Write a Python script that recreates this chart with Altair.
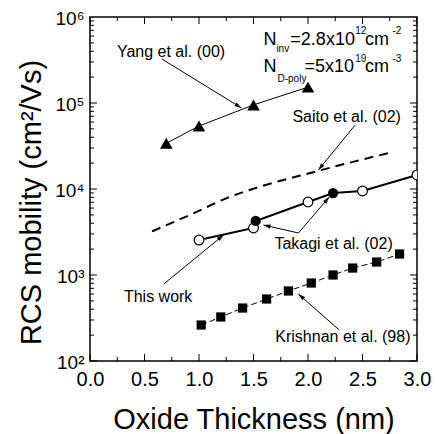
import math
import altair as alt
import pandas as pd

# ---------------- data ----------------
yang_x = [0.7, 1.0, 1.5, 2.0]
yang_y = [34000, 54000, 95000, 153000]

saito_x = [0.57, 0.92, 1.28, 1.65, 2.02, 2.38, 2.75]
saito_y = [3220, 5020, 8070, 11500, 15350, 20200, 26400]

work_x = [1.0, 1.5, 2.0, 2.5, 3.0]
work_y = [2550, 3520, 7060, 9480, 14550]

takagi_x = [1.52, 2.23]
takagi_y = [4250, 8980]

krish_x = [1.02, 1.2, 1.4, 1.62, 1.82, 2.03, 2.23, 2.41, 2.63, 2.84]
krish_y = [262, 325, 413, 526, 652, 807, 1000, 1205, 1416, 1754]

# annotation labels
label_text = ["Yang et al. (00)", "Saito et al. (02)", "Takagi et al. (02)", "This work", "Krishnan et al. (98)"]
label_x = [0.247, 1.857, 1.692, 0.311, 1.70]
label_y = [392000, 68700, 2290, 555, 190]

# arrows (tail -> head)
arrow_x1 = [0.659, 2.433, 1.912, 1.912, 0.677, 2.287]
arrow_y1 = [325000, 55500, 3080, 3080, 786, 229]
arrow_x2 = [1.390, 2.095, 1.592, 2.195, 1.226, 1.912]
arrow_y2 = [87500, 16630, 3810, 8070, 2920, 601]

# condition text pieces
cond_text = ["N", "inv", "=2.8x10", "12", "cm", "-2",
             "N", "D-poly", "=5x10", "19", "cm", "-3"]
cond_x = [1.5915, 1.710, 1.838, 2.433, 2.524, 2.775,
          1.5915, 1.720, 1.967, 2.433, 2.524, 2.775]
cond_y = [547000, 424000, 547000, 687000, 547000, 687000,
          259000, 190000, 259000, 325000, 259000, 325000]
cond_big = [1, 0, 1, 0, 1, 0, 1, 0, 1, 0, 1, 0]

x_major = [0.0, 0.5, 1.0, 1.5, 2.0, 2.5, 3.0]
x_minor = [0.25, 0.75, 1.25, 1.75, 2.25, 2.75]
y_major = [1e2, 1e3, 1e4, 1e5, 1e6]

# ---------------- layout ----------------
W, H = 327, 344
XD = (0.0, 3.0)
YD = (1e2, 1e6)
FONT = "Liberation Sans"


def px(x):
    return (x - XD[0]) / (XD[1] - XD[0]) * W


def py(y):
    return (math.log10(YD[1]) - math.log10(y)) / (math.log10(YD[1]) - math.log10(YD[0])) * H


xs = alt.Scale(domain=list(XD), nice=False)
ys = alt.Scale(type="log", domain=list(YD), nice=False)

# ---------------- tables ----------------
yang = pd.DataFrame({"x": yang_x, "y": yang_y})
saito = pd.DataFrame({"x": saito_x, "y": saito_y})
work = pd.DataFrame({"x": work_x, "y": work_y})
takagi = pd.DataFrame({"x": takagi_x, "y": takagi_y})
krish = pd.DataFrame({"x": krish_x, "y": krish_y})
combo = pd.concat([work, takagi]).sort_values("x")

labels = pd.DataFrame({"t": label_text, "x": label_x, "y": label_y})
arrows = pd.DataFrame({"x": arrow_x1, "y": arrow_y1, "x2": arrow_x2, "y2": arrow_y2})
arrows["angle"] = [
    math.degrees(math.atan2(px(b) - px(a), -(py(d) - py(c)))) % 360
    for a, b, c, d in zip(arrow_x1, arrow_x2, arrow_y1, arrow_y2)
]
cond = pd.DataFrame({"t": cond_text, "x": cond_x, "y": cond_y, "big": cond_big})

# inward tick marks (axes drawn as a frame)
dec_per_px = (math.log10(YD[1]) - math.log10(YD[0])) / H
x_per_px = (XD[1] - XD[0]) / W
rows = []
for v, L in [(v, 7) for v in x_major] + [(v, 4) for v in x_minor]:
    rows.append({"x": v, "x2": v, "y": YD[0], "y2": YD[0] * 10 ** (L * dec_per_px)})
    rows.append({"x": v, "x2": v, "y": YD[1], "y2": YD[1] / 10 ** (L * dec_per_px)})
for e in range(2, 6):
    for m in range(1, 10):
        v = m * 10 ** e
        L = 7 if m == 1 else 4
        rows.append({"x": XD[0], "x2": XD[0] + L * x_per_px, "y": v, "y2": v})
        rows.append({"x": XD[1], "x2": XD[1] - L * x_per_px, "y": v, "y2": v})
ticks = pd.DataFrame(rows)

# ---------------- chart ----------------
xaxis = alt.Axis(values=x_major, format=".1f", ticks=False, domain=False, grid=False,
                 labelFlush=False, labelFontSize=20, labelPadding=8, labelFont=FONT,
                 labelColor="black",
                 title="Oxide Thickness (nm)", titleFontSize=29, titleFont=FONT,
                 titleFontWeight="normal", titleColor="black",
                 titleX=W / 2, titleY=58, titleAlign="center", titleBaseline="middle")
yaxis = alt.Axis(values=y_major, ticks=False, domain=False, grid=False,
                 labelFlush=False, labelOffset=1,
                 labelExpr="'10' + (round(log(datum.value)/LN10) == 2 ? '²' : round(log(datum.value)/LN10) == 3 ? '³' : round(log(datum.value)/LN10) == 4 ? '⁴' : round(log(datum.value)/LN10) == 5 ? '⁵' : '⁶')",
                 labelFontSize=19, labelPadding=6, labelFont=FONT, labelColor="black",
                 title="RCS mobility (cm²/Vs)", titleFontSize=29, titleFont=FONT,
                 titleFontWeight="normal", titleColor="black",
                 titleX=-59, titleY=185, titleAlign="center", titleBaseline="middle",
                 titleAngle=270)

X = alt.X("x:Q", scale=xs, axis=xaxis)
Y = alt.Y("y:Q", scale=ys, axis=yaxis)
Xn = alt.X("x:Q", scale=xs)
Yn = alt.Y("y:Q", scale=ys)

base_ticks = alt.Chart(ticks).mark_rule(color="black", strokeWidth=1).encode(
    x=X, y=Y, x2="x2:Q", y2="y2:Q")

yang_line = alt.Chart(yang).mark_line(color="black", strokeWidth=1).encode(x=Xn, y=Yn)
saito_line = alt.Chart(saito).mark_line(color="black", strokeWidth=2, strokeDash=[9, 6],
                                        interpolate="monotone").encode(x=Xn, y=Yn)
combo_line = alt.Chart(combo).mark_line(color="black", strokeWidth=2).encode(x=Xn, y=Yn)
krish_line = alt.Chart(krish).mark_line(color="black", strokeWidth=1, strokeDash=[6, 3]).encode(x=Xn, y=Yn)

yang_pts = alt.Chart(yang).mark_point(shape="triangle-up", filled=True, color="black",
                                      size=160, opacity=1).encode(x=Xn, y=Yn)
krish_pts = alt.Chart(krish).mark_point(shape="square", filled=True, color="black",
                                        size=85, opacity=1).encode(x=Xn, y=Yn)
work_pts = alt.Chart(work).mark_point(shape="circle", filled=True, fill="white", stroke="black",
                                      strokeWidth=1.2, size=95, opacity=1, clip=True).encode(x=Xn, y=Yn)
takagi_pts = alt.Chart(takagi).mark_point(shape="circle", filled=True, color="black",
                                          size=105, opacity=1).encode(x=Xn, y=Yn)

arrow_shaft = alt.Chart(arrows).mark_rule(color="black", strokeWidth=1).encode(
    x=Xn, y=Yn, x2="x2:Q", y2="y2:Q")
arrow_head = alt.Chart(arrows).mark_point(shape="M0,0L-0.6,2L0.6,2Z", filled=True, color="black",
                                          size=49, opacity=1).encode(
    x=alt.X("x2:Q", scale=xs), y=alt.Y("y2:Q", scale=ys), angle=alt.Angle("angle:Q", scale=None))

label_layer = alt.Chart(labels).mark_text(align="left", baseline="middle", fontSize=16,
                                          font=FONT, color="black").encode(x=Xn, y=Yn, text="t:N")

cond_big_layer = alt.Chart(cond[cond.big == 1]).mark_text(align="left", baseline="middle", fontSize=18,
                                                          font=FONT, color="black").encode(x=Xn, y=Yn, text="t:N")
cond_small_layer = alt.Chart(cond[cond.big == 0]).mark_text(align="left", baseline="middle", fontSize=10,
                                                            font=FONT, color="black").encode(x=Xn, y=Yn, text="t:N")

chart = alt.layer(
    base_ticks, saito_line, yang_line, krish_line, combo_line,
    arrow_shaft, arrow_head,
    yang_pts, krish_pts, work_pts, takagi_pts,
    label_layer, cond_big_layer, cond_small_layer,
).properties(
    width=W, height=H, autosize="none",
    padding={"left": 82, "top": 9, "right": 14, "bottom": 73},
    background="white",
).configure_view(stroke="black", strokeWidth=1.5)

chart.save("out.html", embed_options={"renderer": "svg", "actions": False})
